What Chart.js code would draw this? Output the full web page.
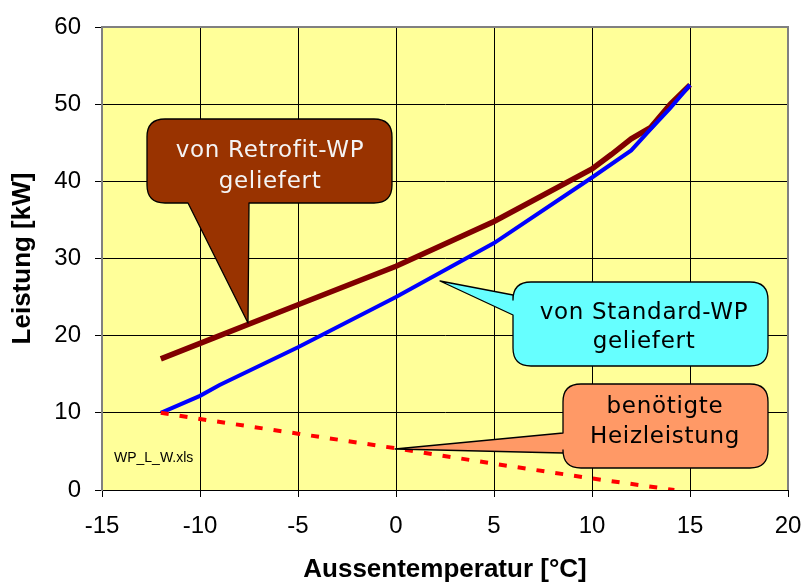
<!DOCTYPE html>
<html>
<head>
<meta charset="utf-8">
<script src="https://cdn.jsdelivr.net/npm/chart.js@4/dist/chart.umd.min.js"></script>
<style>
html,body{margin:0;padding:0;background:#fff;}
#wrap{width:803px;height:583px;position:relative;}
</style>
</head>
<body>
<div id="wrap"><canvas id="c" width="803" height="583"></canvas></div>
<script>
// ---- data ----
const xTickValues = [-15, -10, -5, 0, 5, 10, 15, 20];
const yTickValues = [0, 10, 20, 30, 40, 50, 60];

const retrofitX = [-12, -10, -5, 0, 5, 10, 11, 12, 13, 14, 15];
const retrofitY = [17, 19, 24, 29, 34.8, 41.6, 43.5, 45.5, 47, 50, 52.5];

const standardX = [-12, -10, -9, -5, 0, 5, 10, 12, 13, 14, 15];
const standardY = [10, 12.2, 13.6, 18.5, 25, 32, 40.5, 44, 46.8, 49.5, 52.5];

const heizX = [-12, -10, -5, 0, 5, 10, 14.2];
const heizY = [10, 9.2, 7.3, 5.4, 3.4, 1.5, 0];

const calloutTexts = [
  ["von Retrofit-WP", "geliefert"],
  ["von Standard-WP", "geliefert"],
  ["benötigte", "Heizleistung"]
];
const fileNote = "WP_L_W.xls";

const toPts = (xs, ys) => xs.map((x, i) => ({x: x, y: ys[i]}));

// ---- layout / style ----
const callouts = [
  {box: [147, 119, 392, 203], tip: [248, 323], base: ['bottom', 188, 249],
   fill: '#993300', color: '#F4F4F4', cx: 270, lines: [157, 188]},
  {box: [513, 282, 768, 366], tip: [440, 281], base: ['left', 295, 315],
   fill: '#66FFFF', color: '#000000', cx: 644, lines: [319, 348]},
  {box: [563, 384, 768, 468], tip: [395, 449], base: ['left', 433, 453],
   fill: '#FF9966', color: '#000000', cx: 665, lines: [413, 443]}
];

function calloutPath(ctx, c) {
  const [l, t, r, b] = c.box;
  const rad = 18;
  ctx.beginPath();
  ctx.moveTo(l + rad, t);
  ctx.lineTo(r - rad, t);
  ctx.quadraticCurveTo(r, t, r, t + rad);
  ctx.lineTo(r, b - rad);
  ctx.quadraticCurveTo(r, b, r - rad, b);
  if (c.base[0] === 'bottom') {
    ctx.lineTo(c.base[2], b);
    ctx.lineTo(c.tip[0], c.tip[1]);
    ctx.lineTo(c.base[1], b);
  }
  ctx.lineTo(l + rad, b);
  ctx.quadraticCurveTo(l, b, l, b - rad);
  if (c.base[0] === 'left') {
    ctx.lineTo(l, c.base[2]);
    ctx.lineTo(c.tip[0], c.tip[1]);
    ctx.lineTo(l, c.base[1]);
  }
  ctx.lineTo(l, t + rad);
  ctx.quadraticCurveTo(l, t, l + rad, t);
  ctx.closePath();
}

const decorPlugin = {
  id: 'decor',
  beforeDraw(chart) {
    const ctx = chart.ctx, a = chart.chartArea;
    ctx.save();
    ctx.fillStyle = '#ffffff';
    ctx.fillRect(0, 0, chart.width, chart.height);
    ctx.fillStyle = '#FFFF99';
    ctx.fillRect(a.left, a.top, a.right - a.left, a.bottom - a.top);
    ctx.restore();
  },
  beforeDatasetsDraw(chart) {
    const ctx = chart.ctx, a = chart.chartArea;
    ctx.save();
    ctx.strokeStyle = '#808080';
    ctx.lineWidth = 2;
    ctx.beginPath();
    ctx.moveTo(a.left, a.top);
    ctx.lineTo(a.right, a.top);
    ctx.lineTo(a.right, a.bottom);
    ctx.stroke();
    ctx.fillStyle = '#000';
    ctx.font = '14px "Liberation Sans", Arial, sans-serif';
    ctx.textBaseline = 'alphabetic';
    ctx.fillText(fileNote, a.left + 12, a.bottom - 28);
    ctx.restore();
  },
  afterDatasetsDraw(chart) {
    const ctx = chart.ctx;
    ctx.save();
    callouts.forEach((c, i) => {
      calloutPath(ctx, c);
      ctx.fillStyle = c.fill;
      ctx.fill();
      ctx.strokeStyle = '#000';
      ctx.lineWidth = 1.3;
      ctx.lineJoin = 'round';
      ctx.stroke();
      ctx.fillStyle = c.color;
      ctx.font = '23px "DejaVu Sans", Verdana, sans-serif';
      try { ctx.letterSpacing = '0.7px'; } catch (e) {}
      ctx.textAlign = 'center';
      ctx.textBaseline = 'alphabetic';
      calloutTexts[i].forEach((t, j) => ctx.fillText(t, c.cx, c.lines[j]));
    });
    ctx.restore();
  }
};

const tickFont = {family: '"Liberation Sans", Arial, sans-serif', size: 24};
const titleFont = {family: '"Liberation Sans", Arial, sans-serif', size: 26, weight: 'bold', lineHeight: 1};

new Chart(document.getElementById('c'), {
  type: 'scatter',
  data: {
    datasets: [
      {label: 'Heizleistung', data: toPts(heizX, heizY), showLine: true,
       borderColor: '#FF0000', borderWidth: 4, borderDash: [8, 11], pointRadius: 0, tension: 0},
      {label: 'Standard-WP', data: toPts(standardX, standardY), showLine: true,
       borderColor: '#0000FF', borderWidth: 4, pointRadius: 0, tension: 0},
      {label: 'Retrofit-WP', data: toPts(retrofitX, retrofitY), showLine: true,
       borderColor: '#800000', borderWidth: 5.5, pointRadius: 0, tension: 0}
    ]
  },
  options: {
    responsive: false,
    animation: false,
    devicePixelRatio: 1,
    layout: {padding: {top: 27, right: 15, left: 0, bottom: 0}},
    plugins: {legend: {display: false}, tooltip: {enabled: false}},
    scales: {
      x: {
        type: 'linear', min: -15, max: 20,
        afterBuildTicks: s => { s.ticks = xTickValues.map(v => ({value: v})); },
        afterFit: s => { s.height = 93; s.paddingLeft = 0; s.paddingRight = 0; },
        ticks: {color: '#000', font: tickFont, padding: 15, maxRotation: 0},
        grid: {color: '#000', lineWidth: 1, tickLength: 7, tickColor: '#000'},
        border: {color: '#000', width: 1},
        title: {display: true, text: 'Aussentemperatur [°C]', color: '#000', font: titleFont, padding: {top: 0, bottom: 0}}
      },
      y: {
        type: 'linear', min: 0, max: 60,
        afterBuildTicks: s => { s.ticks = yTickValues.map(v => ({value: v})); },
        afterFit: s => { s.width = 102; s.paddingTop = 0; s.paddingBottom = 0; },
        ticks: {color: '#000', font: tickFont, padding: 14},
        grid: {color: '#000', lineWidth: 1, tickLength: 7, tickColor: '#000'},
        border: {color: '#808080', width: 2},
        title: {display: true, text: 'Leistung [kW]', color: '#000', font: titleFont, padding: {top: 10, bottom: 0}}
      }
    }
  },
  plugins: [decorPlugin]
});
</script>
</body>
</html>
